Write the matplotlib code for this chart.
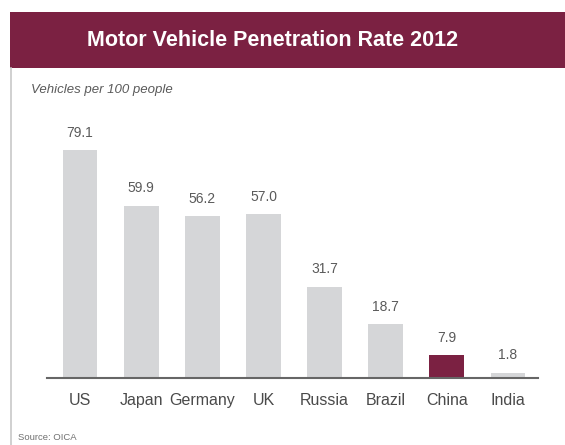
import matplotlib.pyplot as plt
from matplotlib.patches import Rectangle
from matplotlib.lines import Line2D

# === Data ===
countries = ["US", "Japan", "Germany", "UK", "Russia", "Brazil", "China", "India"]
rates = [79.1, 59.9, 56.2, 57.0, 31.7, 18.7, 7.9, 1.8]
value_labels = ["79.1", "59.9", "56.2", "57.0", "31.7", "18.7", "7.9", "1.8"]
highlight = "China"

# === Styles ===
maroon = "#7b2142"
gray_bar = "#d5d6d8"
text_gray = "#5a5a5a"

plt.rcParams['font.family'] = ['Liberation Sans', 'DejaVu Sans']

fig = plt.figure(figsize=(5.65, 4.45), dpi=100)
W, H = 565, 445

# header band
fig.patches.append(Rectangle((10 / W, 1 - 68 / H), 1, 56 / H, transform=fig.transFigure,
                             facecolor=maroon, edgecolor="none", zorder=0))
fig.text(273 / W, 1 - 40 / H, "Motor Vehicle Penetration Rate 2012", color="white",
         fontsize=15.5, fontweight="bold", ha="center", va="center")
# left frame line
fig.add_artist(Line2D([10.5 / W, 10.5 / W], [0, 1 - 68 / H], transform=fig.transFigure,
                      color="#c8c8c8", linewidth=1.2))

fig.text(31 / W, 1 - 90 / H, "Vehicles per 100 people", fontsize=9.5, style="italic",
         color=text_gray, va="center")
fig.text(18 / W, 1 - 437 / H, "Source: OICA", fontsize=6.8, color="#707070", va="center")

# === Axes ===
ax = fig.add_axes([47 / W, 1 - 378 / H, 491 / W, 259 / H])
colors = [maroon if c == highlight else gray_bar for c in countries]
x = range(len(countries))
bars = ax.bar(x, rates, width=0.57, color=colors)

for b, lab in zip(bars, value_labels):
    ax.text(b.get_x() + b.get_width() / 2, b.get_height() + 3.6, lab,
            ha="center", va="bottom", fontsize=10, color=text_gray)

ax.set_xlim(-0.54, 7.49)
ax.set_ylim(0, 90)
ax.set_xticks(list(x))
ax.set_xticklabels(countries, fontsize=11.5, color="#4a4a4a")
ax.tick_params(axis="x", length=0, pad=11)
ax.set_yticks([])
for side in ["top", "right", "left"]:
    ax.spines[side].set_visible(False)
ax.spines["bottom"].set_color("#666666")
ax.spines["bottom"].set_linewidth(1.5)

plt.savefig("out.png", dpi=100)
plt.close()
